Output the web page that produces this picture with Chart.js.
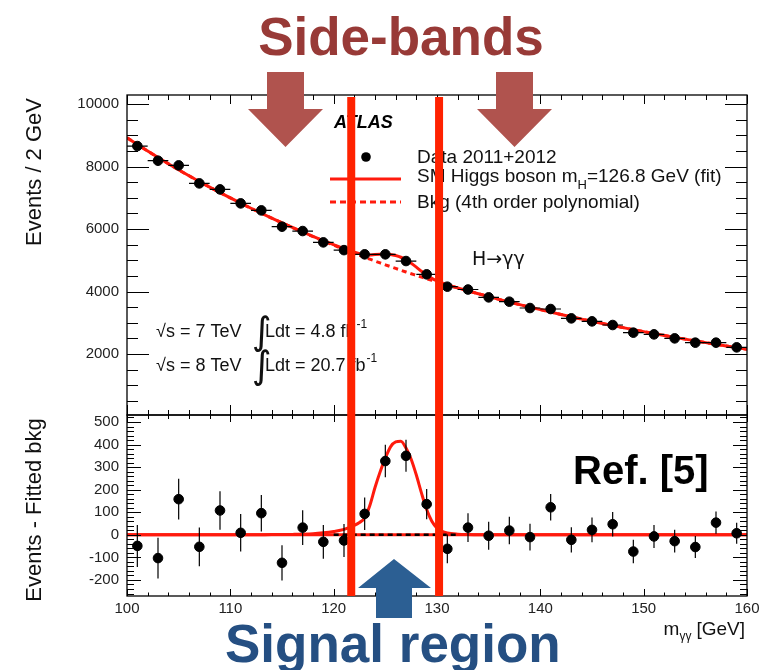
<!DOCTYPE html>
<html>
<head>
<meta charset="utf-8">
<script src="https://cdn.jsdelivr.net/npm/chart.js@4.4.0/dist/chart.umd.min.js"></script>
<style>
  body { margin: 0; background: #fff; }
  #wrap { position: relative; width: 765px; height: 670px; }
  #wrap canvas { position: absolute; left: 0; top: 0; }
</style>
</head>
<body>
<div id="wrap">
  <canvas id="topChart" width="765" height="670"></canvas>
  <canvas id="bottomChart" width="765" height="670"></canvas>
</div>
<script>
// ---- data ----
const massBins = [101,103,105,107,109,111,113,115,117,119,121,123,125,127,129,131,133,135,137,139,141,143,145,147,149,151,153,155,157,159];
const events = [8656,8187,8037,7461,7269,6821,6597,6075,5936,5573,5325,5190,5190,4976,4550,4155,4064,3813,3675,3472,3440,3141,3045,2928,2683,2629,2501,2363,2363,2213];
const eventErr = [93,90,90,86,85,83,81,78,77,75,73,72,72,71,67,64,64,62,61,59,59,56,55,54,52,51,50,49,49,47];
const residuals = [-49,-103,158,-53,108,9,96,-124,32,-31,-25,93,327,350,136,-62,32,-4,19,-10,122,-22,22,47,-74,-7,-28,-54,54,7];

// fitted curves (sampled from the drawn lines)
const fitMass = [100,102,104,106,108,110,112,114,116,118,119,120,121,122,122.5,123,123.5,124,124.5,125,125.5,126,126.5,127,127.5,128,128.5,129,129.5,130,130.5,131,132,133,134,136,138,140,142,144,146,148,150,152,154,156,158,160];
const bkgFit = [8920,8495,8090,7705,7340,6995,6665,6350,6050,5760,5620,5485,5350,5220,5157,5095,5035,4975,4915,4855,4797,4740,4682,4625,4570,4517,4463,4410,4360,4310,4260,4210,4115,4020,3930,3750,3580,3420,3265,3117,2977,2845,2717,2595,2477,2365,2257,2155];
const signalFit = [0,0,0,0,0,0,0,1,2,5,9,15,24,42,55,75,130,210,280,340,390,412,415,385,335,265,185,112,60,30,15,8,3,1,0,0,0,0,0,0,0,0,0,0,0,0,0,0];
const bkgZoneX = [120, 132];

// axis ticks
const massTicks = [100,110,120,130,140,150,160];
const topTicks = [2000,4000,6000,8000,10000];
const bottomTicks = [-200,-100,0,100,200,300,400,500];

const FONT = '"Liberation Sans", Arial, Helvetica, sans-serif';
const RED = '#ff1a0d';

// ---- inside ticks and frame, ROOT style ----
const frameTicks = {
  id: 'frameTicks',
  afterDraw(chart, args, o) {
    const { ctx, chartArea: a, scales: { x, y } } = chart;
    ctx.save();
    ctx.strokeStyle = '#000';
    ctx.lineWidth = 1.3;
    ctx.strokeRect(a.left, a.top, a.right - a.left, a.bottom - a.top);
    ctx.lineWidth = 1;
    ctx.beginPath();
    for (let v = Math.ceil(y.min / o.yMinor) * o.yMinor; v <= y.max; v += o.yMinor) {
      const py = Math.round(y.getPixelForValue(v)) + 0.5;
      const major = Math.abs(v % o.yMajor) < 1e-6;
      const L = major ? o.yLen[0] : o.yLen[1];
      ctx.moveTo(a.left, py); ctx.lineTo(a.left + L, py);
      ctx.moveTo(a.right, py); ctx.lineTo(a.right - L, py);
    }
    for (let v = 100; v <= 160; v += 2) {
      const px = Math.round(x.getPixelForValue(v)) + 0.5;
      const major = v % 10 === 0;
      const t = major ? o.topLen[0] : o.topLen[1];
      const b = major ? o.botLen[0] : o.botLen[1];
      ctx.moveTo(px, a.top); ctx.lineTo(px, a.top + t);
      ctx.moveTo(px, a.bottom); ctx.lineTo(px, a.bottom - b);
    }
    ctx.stroke();
    ctx.restore();
  }
};

// ---- error bars for the data points ----
const errorBars = {
  id: 'errorBars',
  afterDatasetsDraw(chart, args, o) {
    const { ctx, scales: { x, y } } = chart;
    ctx.save();
    ctx.strokeStyle = '#000';
    ctx.lineWidth = 1.2;
    ctx.beginPath();
    massBins.forEach((m, i) => {
      const v = o.values[i];
      const px = x.getPixelForValue(m), py = y.getPixelForValue(v);
      if (o.horizontal) {
        ctx.moveTo(x.getPixelForValue(m - 1), py);
        ctx.lineTo(x.getPixelForValue(m + 1), py);
      }
      ctx.moveTo(px, y.getPixelForValue(v - eventErr[i]));
      ctx.lineTo(px, y.getPixelForValue(v + eventErr[i]));
    });
    ctx.stroke();
    ctx.restore();
  }
};

function text(ctx, s, x, y, font, color, align) {
  ctx.font = font;
  ctx.fillStyle = color || '#111';
  ctx.textAlign = align || 'left';
  ctx.textBaseline = 'alphabetic';
  ctx.fillText(s, x, y);
  return ctx.measureText(s).width;
}

function poly(ctx, pts, color) {
  ctx.fillStyle = color;
  ctx.beginPath();
  ctx.moveTo(pts[0][0], pts[0][1]);
  for (const p of pts.slice(1)) ctx.lineTo(p[0], p[1]);
  ctx.closePath();
  ctx.fill();
}

// ---- labels, arrows and the signal window lines ----
const overlay = {
  id: 'overlay',
  afterDraw(chart) {
    const ctx = chart.ctx, xs = chart.scales.x;
    ctx.save();

    // y titles
    ctx.save();
    ctx.translate(41, 172);
    ctx.rotate(-Math.PI / 2);
    text(ctx, 'Events / 2 GeV', 0, 0, '22px ' + FONT, '#111', 'center');
    ctx.restore();
    ctx.save();
    ctx.translate(41, 510);
    ctx.rotate(-Math.PI / 2);
    text(ctx, 'Events - Fitted bkg', 0, 0, '22px ' + FONT, '#111', 'center');
    ctx.restore();

    // x title
    let w1 = text(ctx, '[GeV]', 745, 635, '19px ' + FONT, '#111', 'right');
    text(ctx, 'γγ', 745 - w1 - 5, 640, '12px ' + FONT, '#111', 'right');
    ctx.font = '12px ' + FONT;
    let w2 = ctx.measureText('γγ').width;
    text(ctx, 'm', 745 - w1 - 5 - w2, 635, '19px ' + FONT, '#111', 'right');

    // ATLAS + legend
    text(ctx, 'ATLAS', 334, 128, 'italic bold 18px ' + FONT, '#000');
    ctx.fillStyle = '#000';
    ctx.beginPath(); ctx.arc(366, 157, 4.8, 0, Math.PI * 2); ctx.fill();
    text(ctx, 'Data 2011+2012', 417, 163, '19px ' + FONT);
    ctx.strokeStyle = RED; ctx.lineWidth = 3;
    ctx.beginPath(); ctx.moveTo(330, 179); ctx.lineTo(401, 179); ctx.stroke();
    ctx.setLineDash([6, 4]);
    ctx.beginPath(); ctx.moveTo(330, 202); ctx.lineTo(401, 202); ctx.stroke();
    ctx.setLineDash([]);
    let w = text(ctx, 'SM Higgs boson m', 417, 182, '19px ' + FONT);
    let wh = text(ctx, 'H', 417 + w, 189, '13px ' + FONT);
    text(ctx, '=126.8 GeV (fit)', 417 + w + wh, 182, '19px ' + FONT);
    text(ctx, 'Bkg (4th order polynomial)', 417, 208, '19px ' + FONT);

    text(ctx, 'H→γγ', 472, 265, '19px "DejaVu Sans", ' + FONT);

    // luminosity lines
    [[337, '7', '4.8'], [371, '8', '20.7']].forEach(([by, e, l]) => {
      text(ctx, '√s = ' + e + ' TeV', 156, by, '18px ' + FONT);
      text(ctx, '∫', 252, by + 7, '38px "DejaVu Sans", sans-serif');
      let wl = text(ctx, 'Ldt = ' + l + ' fb', 265, by, '18px ' + FONT);
      text(ctx, '-1', 265 + wl + 1, by - 9, '12px ' + FONT);
    });

    text(ctx, 'Ref. [5]', 573, 484, 'bold 40px ' + FONT, '#000');

    // side-band arrows
    const SB = '#b0534e';
    [285.5, 514.5].forEach(cx => {
      poly(ctx, [[cx - 18.5, 72], [cx + 18.5, 72], [cx + 18.5, 109], [cx + 37.5, 109],
                 [cx, 147], [cx - 37.5, 109], [cx - 18.5, 109]], SB);
    });
    text(ctx, 'Side-bands', 401, 55, 'bold 53px ' + FONT, '#983a37', 'center');

    // signal window lines
    ctx.fillStyle = '#ff2200';
    [121.7, 130.2].forEach(m => {
      const px = xs.getPixelForValue(m);
      ctx.fillRect(px - 4, 97, 8, 499);
    });

    // signal arrow
    poly(ctx, [[394, 559], [431, 588], [412, 588], [412, 618], [376, 618], [376, 588], [358, 588]], '#2c5f93');
    text(ctx, 'Signal region', 225, 662, 'bold 53px ' + FONT, '#254f82');

    ctx.restore();
  }
};

const yAxisBase = (min, max, ticks) => ({
  min: min, max: max,
  afterFit(s) { s.width = 127; },
  afterBuildTicks(s) { s.ticks = ticks.map(v => ({ value: v })); },
  grid: { display: false, drawTicks: false },
  border: { display: false },
  ticks: { padding: 8, color: '#222', font: { size: 15, family: FONT }, callback: v => String(v) }
});

// ---- top panel ----
new Chart(document.getElementById('topChart'), {
  type: 'scatter',
  data: {
    datasets: [
      {
        type: 'line',
        data: fitMass.map((m, i) => ({ x: m, y: bkgFit[i] + signalFit[i] })),
        borderColor: RED, borderWidth: 3, pointRadius: 0,
        cubicInterpolationMode: 'monotone', order: 2
      },
      {
        type: 'line',
        data: fitMass.map((m, i) => ({ x: m, y: bkgFit[i] })),
        borderColor: RED, borderWidth: 3, borderDash: [5, 4], pointRadius: 0,
        cubicInterpolationMode: 'monotone', order: 3
      },
      {
        data: massBins.map((m, i) => ({ x: m, y: events[i] })),
        backgroundColor: '#000', borderColor: '#000', pointRadius: 4.8, order: 1
      }
    ]
  },
  options: {
    responsive: false, animation: false, devicePixelRatio: 1,
    layout: { padding: { top: 95, bottom: 255, right: 18, left: 0 } },
    plugins: {
      legend: { display: false }, tooltip: { enabled: false },
      frameTicks: { yMajor: 2000, yMinor: 500, yLen: [22, 11], topLen: [9, 5], botLen: [10, 5] },
      errorBars: { values: events, horizontal: true }
    },
    scales: {
      x: { type: 'linear', min: 100, max: 160, display: false },
      y: yAxisBase(48, 10290, topTicks)
    }
  },
  plugins: [frameTicks, errorBars]
});

// ---- bottom panel ----
new Chart(document.getElementById('bottomChart'), {
  type: 'scatter',
  data: {
    datasets: [
      {
        type: 'line',
        data: [{ x: 100, y: 0 }, { x: 160, y: 0 }],
        borderColor: RED, borderWidth: 3, pointRadius: 0, order: 4
      },
      {
        type: 'line',
        data: fitMass.map((m, i) => ({ x: m, y: signalFit[i] })),
        borderColor: RED, borderWidth: 3, pointRadius: 0,
        cubicInterpolationMode: 'monotone', order: 3
      },
      {
        type: 'line',
        data: bkgZoneX.map(m => ({ x: m, y: 0 })),
        borderColor: '#000', borderWidth: 2.5, borderDash: [5, 4], pointRadius: 0, order: 2
      },
      {
        data: massBins.map((m, i) => ({ x: m, y: residuals[i] })),
        backgroundColor: '#000', borderColor: '#000', pointRadius: 4.8, order: 1
      }
    ]
  },
  options: {
    responsive: false, animation: false, devicePixelRatio: 1,
    layout: { padding: { top: 415, bottom: 0, right: 18, left: 0 } },
    plugins: {
      legend: { display: false }, tooltip: { enabled: false },
      frameTicks: { yMajor: 100, yMinor: 20, yLen: [14, 7], topLen: [7, 4], botLen: [7, 3.5] },
      errorBars: { values: residuals, horizontal: false }
    },
    scales: {
      x: {
        type: 'linear', min: 100, max: 160,
        afterFit(s) { s.height = 74; },
        afterBuildTicks(s) { s.ticks = massTicks.map(v => ({ value: v })); },
        grid: { display: false, drawTicks: false },
        border: { display: false },
        ticks: { padding: 4, maxRotation: 0, autoSkip: false, color: '#222', font: { size: 15, family: FONT } }
      },
      y: yAxisBase(-271, 531, bottomTicks)
    }
  },
  plugins: [frameTicks, errorBars, overlay]
});
</script>
</body>
</html>
